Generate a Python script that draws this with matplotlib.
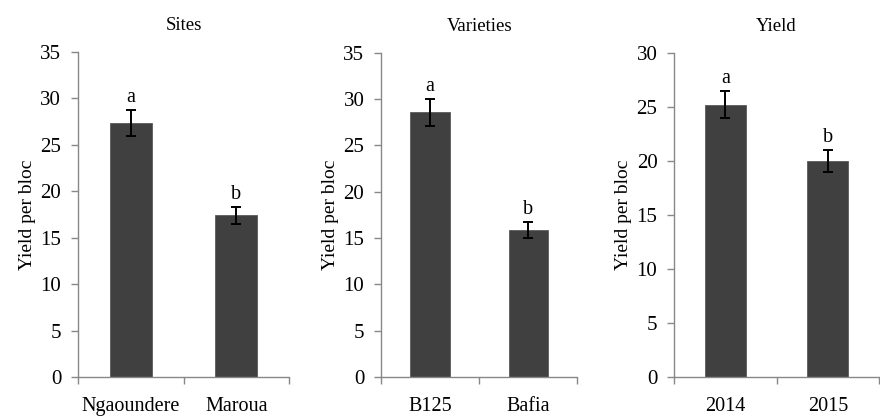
import numpy as np
import matplotlib
matplotlib.use("Agg")
import matplotlib.pyplot as plt

plt.rcParams['font.family'] = ['Liberation Serif', 'DejaVu Serif']

# data
titles = ["Sites", "Varieties", "Yield"]
categories = [["Ngaoundere", "Maroua"], ["B125", "Bafia"], ["2014", "2015"]]
means = [[27.4, 17.4], [28.6, 15.9], [25.2, 20.0]]
errors = [[1.4, 0.9], [1.45, 0.85], [1.25, 1.0]]
letters = [["a", "b"], ["a", "b"], ["a", "b"]]
ymax = [35, 35, 30]

# axes boxes in figure fractions [left, bottom, width, height]
boxes = [[0.0886, 0.100, 0.240, 0.776],
         [0.433, 0.100, 0.223, 0.774],
         [0.766, 0.100, 0.233, 0.774]]

fig = plt.figure(figsize=(8.8, 4.19), dpi=100)
for i in range(3):
    ax = fig.add_axes(boxes[i])
    x = np.arange(len(categories[i]))
    ax.bar(x, means[i], width=0.4, color='#404040', edgecolor='#5a5a5a', linewidth=0.6, zorder=2)
    ax.errorbar(x, means[i], yerr=errors[i], fmt='none', ecolor='black',
                elinewidth=1.4, capsize=3.6, capthick=1.4, zorder=3)
    for xi, m, e, l in zip(x, means[i], errors[i], letters[i]):
        ax.annotate(l, (xi, m + e), xytext=(0, 2), textcoords='offset points',
                    ha='center', va='bottom', fontsize=14.5)
    ax.set_xlim(-0.5, len(x) - 0.5)
    ax.set_ylim(0, ymax[i])
    ax.set_yticks(np.arange(0, ymax[i] + 1, 5))
    ax.set_xticks(x)
    ax.set_xticklabels(categories[i], fontsize=14.5)
    ax.set_xticks(np.arange(-0.5, len(x), 1), minor=True)
    ax.tick_params(axis='x', which='major', length=0, pad=14)
    ax.tick_params(axis='x', which='minor', length=5, color='#888888', width=1)
    ax.tick_params(axis='y', length=5, color='#888888', width=1, pad=7, labelsize=15)
    for s in ['top', 'right']:
        ax.spines[s].set_visible(False)
    for s in ['left', 'bottom']:
        ax.spines[s].set_color('#888888')
        ax.spines[s].set_linewidth(1)
    ax.set_ylabel("Yield per bloc", fontsize=14, labelpad=3)
    ax.set_title(titles[i], fontsize=13.5, pad=16)

fig.savefig("out.png", dpi=100)
